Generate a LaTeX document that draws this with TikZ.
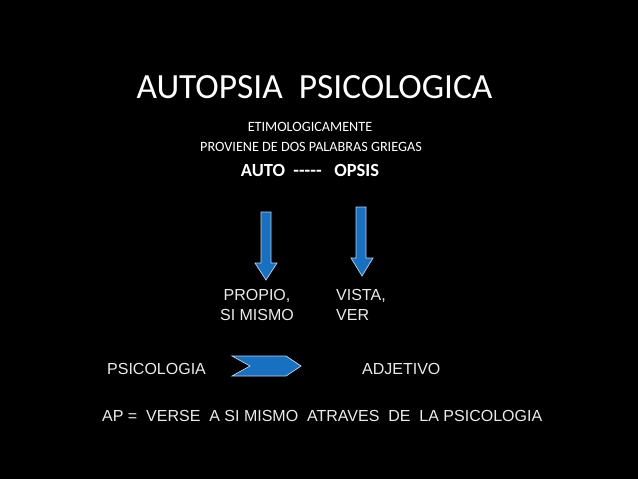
\documentclass[tikz,border=0pt]{standalone}
\usepackage{fontspec}
\setmainfont{Carlito}[Ligatures=NoCommon]
\newfontfamily\arialf{Liberation Sans}
\definecolor{arrowblue}{RGB}{24,112,192}
\definecolor{txtgray}{RGB}{235,235,235}
\begin{document}
\begin{tikzpicture}[x=1pt,y=-1pt,
  cal/.style={inner sep=0pt,text=white,anchor=base,font=#1},
  ari/.style={inner sep=0pt,text=txtgray,anchor=base west,font=\arialf\fontsize{#1}{#1}\selectfont},
  blockarrow/.style={fill=arrowblue,draw=white!70!arrowblue,line width=0.7pt,line join=miter}]
\fill[black] (0,0) rectangle (638,479);
\useasboundingbox (0,0) rectangle (638,479);
\node[cal={\fontsize{35.4}{35.4}\selectfont}] (title) at (314.5,98) {AUTOPSIA\ \ PSICOLOGICA};
\node[cal={\fontsize{14.2}{14.2}\selectfont}] (etim) at (310,131) {ETIMOLOGICAMENTE};
\node[cal={\fontsize{14.2}{14.2}\selectfont}] (prov) at (311,151) {PROVIENE DE DOS PALABRAS GRIEGAS};
\node[cal={\bfseries\fontsize{18.5}{18.5}\selectfont}] (auto) at (310,176) {AUTO\ \ -{}-{}-{}-{}-\ \ \ OPSIS};
% down arrows
\draw[blockarrow] (261,212) -- (271,212) -- (271,263) -- (277,263) -- (266,280) -- (255,263) -- (261,263) -- cycle;
\draw[blockarrow] (356,207) -- (366,207) -- (366,258) -- (373,258) -- (362,276) -- (351,258) -- (356,258) -- cycle;
\node[ari=16,anchor=base] (propio) at (257,300) {PROPIO,};
\node[ari=16,anchor=base] (simismo) at (257,320) {SI MISMO};
\node[ari=16] (vista) at (336,300) {VISTA,};
\node[ari=16] (ver) at (336,320) {VER};
\node[ari=16] (psico) at (107,374) {PSICOLOGIA};
\node[ari=16] (adj) at (362,374) {ADJETIVO};
\draw[blockarrow] (232,356) -- (286,356) -- (301,366) -- (286,376) -- (232,376) -- (250,366) -- cycle;
\node[ari=16] (ap) at (102,421) {AP =\ \ VERSE\ \ A SI MISMO\ \ ATRAVES\ \ DE\ \ LA PSICOLOGIA};
\end{tikzpicture}
\end{document}
